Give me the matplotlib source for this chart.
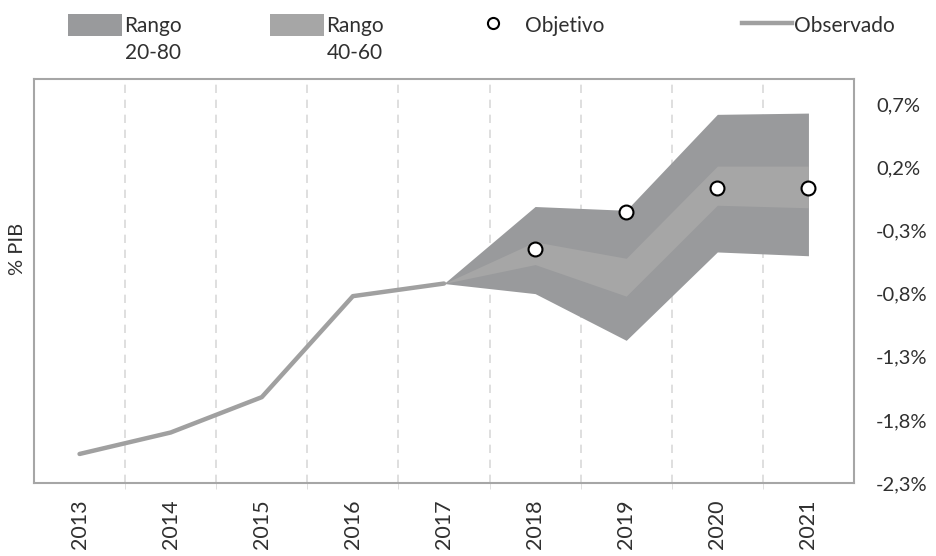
import matplotlib
matplotlib.use('Agg')
import matplotlib.pyplot as plt
import numpy as np
from matplotlib.patches import Patch
from matplotlib.lines import Line2D

plt.rcParams['font.family'] = ['Lato', 'DejaVu Sans']

nan = np.nan
years = ['2013', '2014', '2015', '2016', '2017', '2018', '2019', '2020', '2021']
observado = [-2.07, -1.90, -1.62, -0.82, -0.72, nan, nan, nan, nan]
p20 = [nan, nan, nan, nan, -0.72, -0.80, -1.17, -0.47, -0.50]
p80 = [nan, nan, nan, nan, -0.72, -0.11, -0.14, 0.62, 0.63]
p40 = [nan, nan, nan, nan, -0.72, -0.57, -0.82, -0.10, -0.12]
p60 = [nan, nan, nan, nan, -0.72, -0.39, -0.52, 0.21, 0.21]
objetivo = [nan, nan, nan, nan, nan, -0.45, -0.15, 0.04, 0.04]
yticks = [-2.3, -1.8, -1.3, -0.8, -0.3, 0.2, 0.7]
ytick_labels = ['-2,3%', '-1,8%', '-1,3%', '-0,8%', '-0,3%', '0,2%', '0,7%']
legend_labels = ['Rango', 'Rango', 'Objetivo', 'Observado']
legend_sub = ['20-80', '40-60', '', '']

dark = '#999a9c'
light = '#a6a6a6'
line_c = '#a0a0a0'
text_c = '#303030'

fig = plt.figure(figsize=(9.37, 5.56), dpi=100)
ax = fig.add_axes([34/937, 1-483/556, 820/937, 404/556])

x = np.arange(len(years))
m = ~np.isnan(np.array(p20))
ax.fill_between(x[m], np.array(p20)[m], np.array(p80)[m], color=dark, lw=0, zorder=2)
ax.fill_between(x[m], np.array(p40)[m], np.array(p60)[m], color=light, lw=0, zorder=3)
ax.plot(x, observado, color=line_c, lw=3.2, solid_capstyle='round', zorder=4)
ax.plot(x, objetivo, ls='none', marker='o', ms=10, mfc='white', mec='black', mew=1.5, zorder=5)

ax.set_xlim(-0.5, len(years)-0.5)
ax.set_ylim(-2.3, 0.9)
ax.set_xticks(x)
ax.set_xticklabels(years, rotation=90, fontsize=15.5, color=text_c)
ax.set_xticks(np.arange(0.5, len(years)-1, 1), minor=True)
ax.tick_params(axis='x', which='major', length=0, pad=12)
ax.tick_params(axis='x', which='minor', length=4, color='#d9d9d9')
ax.grid(True, axis='x', which='minor', color='#d9d9d9', ls=(0, (5, 4)), lw=1.2, zorder=1)

ax.yaxis.tick_right()
ax.set_yticks(yticks)
ax.set_yticklabels(ytick_labels, fontsize=14.5, color=text_c)
ax.tick_params(axis='y', length=0, pad=16)

for s in ax.spines.values():
    s.set_color('#a6a6a6')
    s.set_linewidth(1.5)

ax.text(-0.02, 0.58, '% PIB', transform=ax.transAxes, rotation=90,
        ha='center', va='center', fontsize=14.5, color=text_c)

handles = [
    Patch(facecolor=dark, edgecolor='none'),
    Patch(facecolor=light, edgecolor='none'),
    Line2D([], [], ls='none', marker='o', ms=8, mfc='white', mec='black', mew=1.5),
    Line2D([], [], color=line_c, lw=3.2),
]
positions = [(68/937, 1-25/556), (270/937, 1-25/556), (480/937, 1-25/556), (742/937, 1-25/556)]
hlens = [2.6, 2.6, 1.25, 2.4]
pads = [0.1, 0.1, 0.9, 0.1]
for h, lab, sub, pos, hl, pd in zip(handles, legend_labels, legend_sub, positions, hlens, pads):
    leg = fig.legend(handles=[h], labels=[lab], loc='center left', bbox_to_anchor=pos,
                     frameon=False, handlelength=hl, handleheight=1.3, handletextpad=pd,
                     borderpad=0, borderaxespad=0, fontsize=15, labelcolor=text_c)
    if sub:
        t = leg.get_texts()[0]
        fig.canvas.draw()
        ax.annotate(sub, xy=(0.5, 0), xycoords=t, xytext=(0, -5), textcoords='offset points',
                    ha='center', va='top', fontsize=15, color=text_c, annotation_clip=False)

fig.savefig('out.png', dpi=100)
